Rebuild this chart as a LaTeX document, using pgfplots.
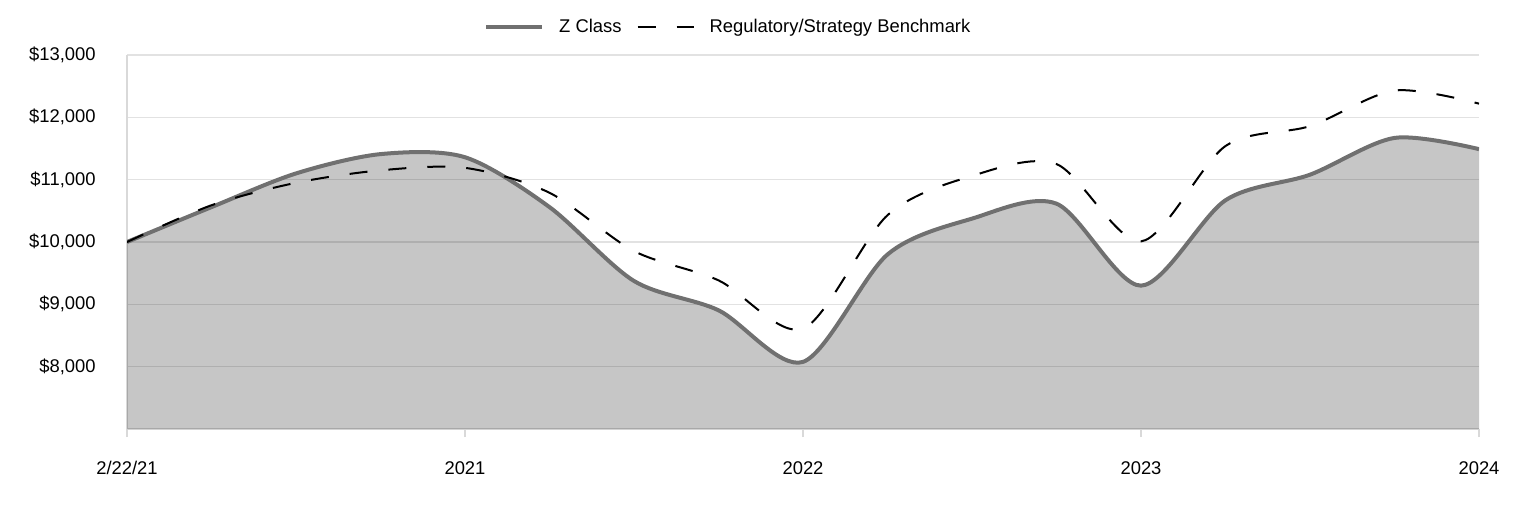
\documentclass[border=0pt]{standalone}
\usepackage{pgfplots}
\pgfplotsset{compat=1.18}
\usepackage{pgfplotstable}
\usepackage{fontspec}
\setmainfont{Liberation Sans}
\definecolor{zline}{HTML}{707070}
\definecolor{gridc}{HTML}{E2E2E2}
\definecolor{axc}{HTML}{D9D9D9}
\pgfplotstableread{
q Z B
0 10000 10000
1 10560 10590
2 11100 10950
3 11410 11150
4 11360 11190
5 10560 10790
6 9375 9855
7 8905 9385
8 8077 8610
9 9800 10430
10 10375 11060
11 10615 11250
12 9300 10010
13 10670 11540
14 11080 11860
15 11670 12430
16 11490 12220
}\datatab
\begin{document}
\begin{tikzpicture}
\useasboundingbox (0,0) rectangle (762pt,258pt);
\begin{axis}[
  at={(63.5pt,43.5pt)}, anchor=south west,
  scale only axis, width=676pt, height=187pt,
  xmin=0, xmax=16, ymin=7000, ymax=13000,
  axis lines=left, axis line style={-, draw=axc, line width=0.8pt},
  xtick={0,4,8,12,16},
  xticklabels={2/22/21,2021,2022,2023,2024},
  ytick={8000,9000,10000,11000,12000,13000},
  yticklabels={{\$8,000},{\$9,000},{\$10,000},{\$11,000},{\$12,000},{\$13,000}},
  scaled y ticks=false,
  ymajorgrids, major grid style={draw=gridc, line width=0.8pt},
  tick align=outside,
  major tick length=4pt,
  xtick style={draw=axc, line width=0.8pt},
  ytick style={draw=none},
  tick label style={font=\fontsize{9.2}{11}\selectfont, text=black},
  xticklabel style={anchor=north, inner sep=0pt, yshift=-12pt},
  yticklabel style={anchor=east, inner sep=0pt, xshift=-11.5pt},
  legend style={draw=none, fill=none, at={(0.444,1.075)}, anchor=center,
    font=\fontsize{9.2}{11}\selectfont,
    nodes={inner sep=0pt},
    /tikz/every even column/.append style={column sep=7.5pt}},
  legend columns=2,
  legend cell align=left,
  legend image code/.code={\draw[#1] (0pt,0pt) -- (28pt,0pt); \path (35.5pt,0pt);},
]
\addplot[draw=none, fill=black, fill opacity=0.224, smooth, forget plot] table[x=q,y=Z]{\datatab} \closedcycle;
\addplot[zline, line width=2pt, smooth] table[x=q,y=Z]{\datatab};
\addlegendentry{Z Class}
\addplot[black, line width=1pt, dash pattern=on 9pt off 10.5pt, smooth] table[x=q,y=B]{\datatab};
\addlegendentry{Regulatory/Strategy Benchmark}
\end{axis}
\end{tikzpicture}
\end{document}
